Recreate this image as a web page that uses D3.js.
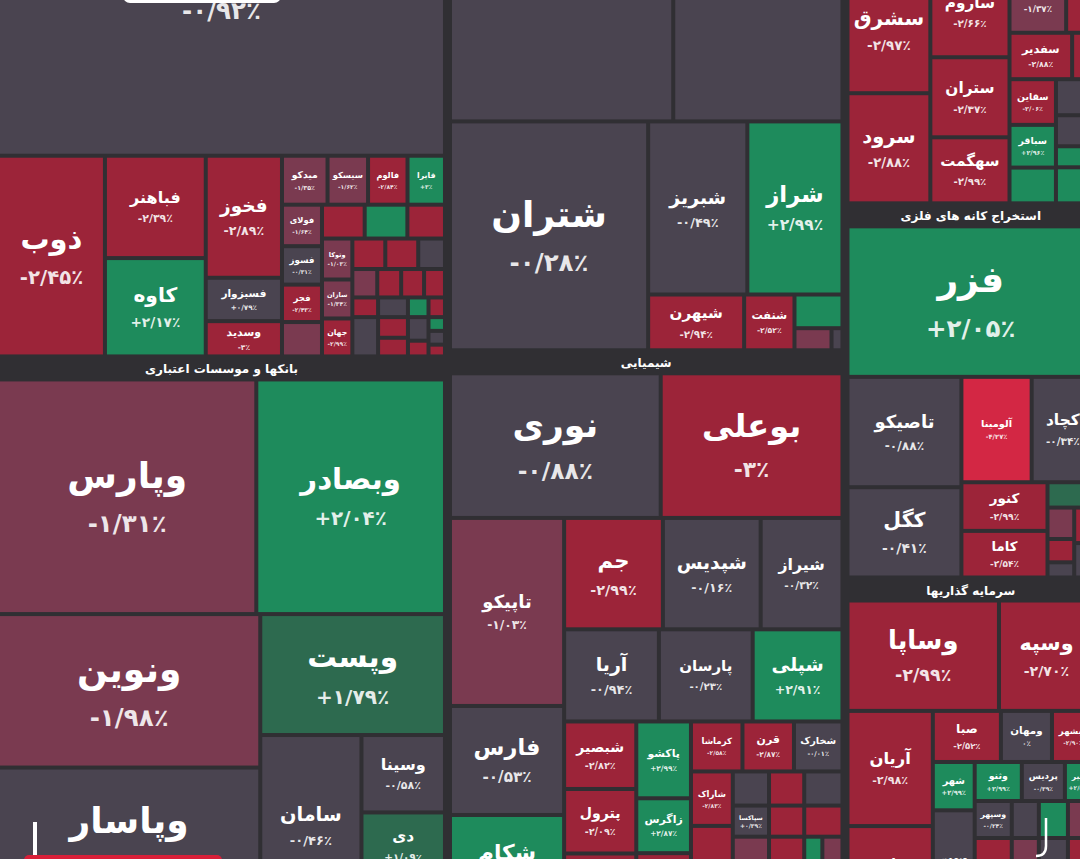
<!DOCTYPE html>
<html><head><meta charset="utf-8">
<script src="https://cdn.jsdelivr.net/npm/d3@7"></script>
<style>html,body{margin:0;padding:0;background:#302f33;overflow:hidden}svg{display:block}</style>
</head><body><svg id="c" width="1080" height="859"></svg>
<script>
// ---------------- DATA ----------------
const sectorNames = ['فلزات اساسی','بانکها و موسسات اعتباری','فرآورده های نفتی','شیمیایی','خودرو و ساخت قطعات','سیمان، آهک و گچ','استخراج کانه های فلزی','سرمایه گذاریها'];

const metalsTickers = ["فملی","ذوب","فباهنر","کاوه","فخوز","فسبزوار","وسدید","میدکو","سیسکو","فالوم","فایرا","فولای","فسوز","فجر","#m1","#m2","#m3","#m4","وتوکا","سازان","جهان","#m5","#m6","#m7","#m8","#m9","#m10","#m11","#m12","#m13","#m14","#m15","#m16","#m17","#m18","#m19","#m20","#m21","#m22","#m23"];
const metalsChanges = [-0.92,-2.45,-2.39,2.17,-2.89,0.79,-3,-1.35,-1.62,-2.84,3,-1.64,-0.31,-2.43,-1.5,-2.6,2.4,-2.7,-1.03,-1.34,-2.99,-2.5,-2.8,-0.4,-1.6,-2.7,-2.9,-2.2,-2.4,0.2,2.6,-2.9,-0.5,-2.6,-2.3,-0.6,-2.8,2.2,-0.3,-2.5];
const metalsCaps = [152292,21216,10200,9800,9196,3268,2660,2205,1960,1911,1813,1640,1520,1480,1360,1428,1428,1258,1230,1170,1140,992,992,806,700,672,644,588,500,580,400,320,1000,609,551,480,320,224,224,192];
const metalsLayout = ['v','فملی',['h','ذوب',['v','فباهنر','کاوه'],['v','فخوز','فسبزوار','وسدید'],['v',['h','میدکو','سیسکو','فالوم','فایرا'],['h',['v','فولای','فسوز','فجر','#m1'],['v',['h','#m2','#m3','#m4'],['h',['v','وتوکا','سازان','جهان'],['v',['h','#m5','#m6','#m7'],['h','#m8','#m9','#m10','#m11'],['h','#m12','#m13','#m14','#m15'],['h','#m16',['v','#m17','#m18'],['v','#m19','#m20'],['v','#m21','#m22','#m23']]]]]]]]];

const banksTickers = ["وپارس","وبصادر","ونوین","وپاسار","وپست","سامان","وسینا","دی","#b1"];
const banksChanges = [-1.31,2.04,-1.98,0.16,1.79,-0.46,-0.58,1.09,-0.2];
const banksCaps = [59904,43758,39780,38740,22080,18200,6391,5395,3237];
const banksLayout = ['v',['h','وپارس','وبصادر'],['h',['v','ونوین','وپاسار'],['v','وپست',['h','سامان',['v','وسینا','دی','#b1']]]]];

const petroTickers = ["شپنا","شبندر","شتران","شبریز","شراز","شیهرن","شنفت","#p1","#p2","#p3"];
const petroChanges = [-0.5,-0.6,-0.28,-0.49,2.99,-2.94,-2.52,2.5,-1.5,-0.3];
const petroCaps = [68600,52000,44900,17000,16300,5300,2780,1600,810,240];
const petroLayout = ['v',['h','شپنا','شبندر'],['h','شتران',['v',['h','شبریز','شراز'],['h','شیهرن','شنفت',['v','#p1',['h','#p2','#p3']]]]]];

const chemTickers = ["نوری","بوعلی","تاپیکو","فارس","شکام","جم","شپدیس","شیراز","آریا","پارسان","شپلی","شبصیر","پترول","#c1","پاکشو","زاگرس","#c2","کرماشا","قرن","شخارک","شاراک","شفام","#c3","#c4","#c5","سپاکسا","#c6","#c7","#c8","#c9","#c10","#c11"];
const chemChanges = [-0.88,-3,-1.03,-0.53,2.5,-2.99,-0.16,-0.32,-0.94,-0.23,2.91,-2.82,-2.09,-2.6,2.99,2.87,-2.4,-2.58,-2.87,-0.01,-2.83,-2.72,-0.4,-2.5,-0.2,0.39,-2.6,-2.3,-1.4,-2.7,2.4,-1.6];
const chemCaps = [30173,26026,21244,12317,11526,10890,10780,9020,8645,8554,8190,4824,4608,4536,4158,2970,3456,2548,2548,2401,2255,3772,1224,1190,1292,1116,1085,1178,2880,2800,1440,1600];
const chemLayout = ['v',['h','نوری','بوعلی'],['h',['v','تاپیکو','فارس','شکام'],['v',['h','جم','شپدیس','شیراز'],['h','آریا','پارسان','شپلی'],['h',['v','شبصیر','پترول','#c1'],['v','پاکشو','زاگرس','#c2'],['v',['h','کرماشا','قرن','شخارک'],['h',['v','شاراک','شفام'],['v',['h','#c3','#c4','#c5'],['h','سپاکسا','#c6','#c7'],['h','#c8','#c9','#c10','#c11']]]]]]]];

const autoTickers = ["خساپا"];
const autoChanges = [-0.6];
const autoCaps = [32500];
const autoLayout = ['v','خساپا'];

const cementTickers = ["سشرق","سرود","ساروم","ستران","سهگمت","ساوه","#s1","سفدیر","#s2","سقاین","سباقر","#s3","#s4","#s5","#s6","#s7"];
const cementChanges = [-2.97,-2.88,-2.66,-2.37,-2.99,-1.37,-2.5,-2.88,-2.6,-2.06,2.96,2.3,-0.4,-0.2,2.2,2.5];
const cementCaps = [10496,9102,7189,6320,5214,3762,1848,2898,1012,2116,1978,1656,1368,1178,798,1368];
const cementLayout = ['h',['v','سشرق','سرود'],['v','ساروم','ستران','سهگمت'],['v',['h','ساوه','#s1'],['h','سفدیر','#s2'],['h',['v','سقاین','سباقر','#s3'],['v','#s4','#s5','#s6','#s7']]]];

const extractTickers = ["فزر","تاصیکو","کگل","آلومینا","کچاد","کنور","کاما","#e1","#e2","#e3","#e4","#e5","#e6"];
const extractChanges = [2.05,-0.88,-0.41,-4.27,-0.34,-2.99,-2.54,1.6,-1.5,-2.5,-0.3,-2.4,-0.5];
const extractCaps = [37000,12540,10260,7384,6552,4176,4002,1175,837,621,405,700,680];
const extractLayout = ['v','فزر',['h',['v','تاصیکو','کگل'],['v',['h','آلومینا','کچاد'],['h',['v','کنور','کاما'],['v','#e1',['h',['v','#e2','#e3','#e4'],['v','#e5','#e6']]]]]]];

const investTickers = ["وساپا","وسپه","آریان","وخارزم","صبا","ومهان","وبشهر","شهر","وبهمن","وثنو","پردیس","ونیر","وسپهر","#i1","#i2","#i3","#i4","#i5","#i6","#i7"];
const investChanges = [-2.99,-2.7,-2.98,-2.5,-2.52,0,-2.9,2.99,0.16,2.99,-0.39,2.5,-0.24,-0.5,2.4,-1.5,-2.6,-1.4,-0.3,-2.5];
const investCaps = [16677,10464,9804,7740,3468,2601,2142,2016,4452,1833,1677,1131,1369,999,1073,962,2923,2133,2291,2054];
const investLayout = ['v',['h','وساپا','وسپه'],['h',['v','آریان','وخارزم'],['v',['h','صبا','ومهان','وبشهر'],['h',['v','شهر','وبهمن'],['v',['h','وثنو','پردیس','ونیر'],['h','وسپهر','#i1','#i2','#i3'],['h','#i4','#i5','#i6','#i7']]]]]];

const sectorSets = [
  [metalsTickers, metalsChanges, metalsCaps, metalsLayout],
  [banksTickers, banksChanges, banksCaps, banksLayout],
  [petroTickers, petroChanges, petroCaps, petroLayout],
  [chemTickers, chemChanges, chemCaps, chemLayout],
  [autoTickers, autoChanges, autoCaps, autoLayout],
  [cementTickers, cementChanges, cementCaps, cementLayout],
  [extractTickers, extractChanges, extractCaps, extractLayout],
  [investTickers, investChanges, investCaps, investLayout]
];
const columnSectors = [[0,1],[2,3],[4,5,6,7]];

// ---------------- BUILD ----------------
function build(spec, lut) {
  if (typeof spec === 'string') { const r = lut.get(spec); return {name: spec, pct: r.pct, cap: r.cap}; }
  return {dir: spec[0], children: spec.slice(1).map(s => build(s, lut))};
}
function sectorNode(i) {
  const [tk, ch, cp, lay] = sectorSets[i];
  const lut = new Map(tk.map((t, j) => [t, {pct: ch[j], cap: cp[j]}]));
  const n = build(lay, lut);
  n.header = sectorNames[i];
  return n;
}
const tree = {dir: 'h', children: columnSectors.map(col => ({dir: 'v', children: col.map(sectorNode)}))};

const X0 = 0, X1 = 1092, Y0 = -210, Y1 = 915, HDR = 23;

function tile(parent, x0, y0, x1, y1) {
  const kids = parent.children;
  const total = d3.sum(kids, c => c.value) || 1;
  if (parent.data.dir === 'h') {
    let x = x0; const k = (x1 - x0) / total;
    kids.forEach(c => { c.y0 = y0; c.y1 = y1; c.x0 = x; x += c.value * k; c.x1 = x; });
  } else {
    let y = y0; const k = (y1 - y0) / total;
    kids.forEach(c => { c.x0 = x0; c.x1 = x1; c.y0 = y; y += c.value * k; c.y1 = y; });
  }
}

const treemap = d3.treemap()
  .size([X1 - X0, Y1 - Y0])
  .tile(tile)
  .paddingInner(n => n.depth === 0 ? 9 : 4)
  .paddingTop(n => n.data.header ? HDR : 0)
  .round(false);

const root = d3.hierarchy(tree).sum(d => d.cap || 0);
treemap(root);
// compensate header band area so the tiles keep their proportions
for (let it = 0; it < 8; it++) {
  root.eachAfter(n => {
    if (!n.children) return;
    let v = d3.sum(n.children, c => c.value);
    if (n.data.header) {
      const tilesH = Math.max(1, (n.y1 - n.y0 + 4) - HDR);
      v += v * HDR / tilesH;
    }
    n.value = v;
  });
  treemap(root);
}

// ---------------- DRAW ----------------
const color = d3.scaleThreshold()
  .domain([-4, -2, -1, 1, 2])
  .range(['#d32744', '#9c2439', '#7a3a50', '#4a4450', '#2d6a4f', '#1e8b5c']);

const fa = s => s.replace(/[0-9]/g, d => '۰۱۲۳۴۵۶۷۸۹'[+d]).replace('.', '/');
const fmt = p => { const a = Math.abs(p); const s = Number.isInteger(a) ? String(a) : a.toFixed(2); return (p > 0 ? '+' : p < 0 ? '-' : '') + fa(s) + '٪'; };

const svg = d3.select('#c');
svg.append('rect').attr('width', 1080).attr('height', 859).attr('fill', '#302f33');
const g = svg.append('g').attr('transform', `translate(${X0},${Y0})`);

const leaves = root.leaves();
g.selectAll('rect.t').data(leaves).join('rect').attr('class', 't')
  .attr('x', d => d.x0).attr('y', d => d.y0)
  .attr('width', d => Math.max(0, d.x1 - d.x0)).attr('height', d => Math.max(0, d.y1 - d.y0))
  .attr('fill', d => color(d.data.pct));

const font = "'DejaVu Sans', 'Noto Sans', sans-serif";
function label(x, y, size, fill, txt) {
  if (y + Y0 < 0) return; // label lies above the visible frame
  g.append('text').attr('x', x).attr('y', y)
    .attr('text-anchor', 'middle').attr('dominant-baseline', 'central')
    .attr('font-family', font).attr('font-weight', 'bold').attr('font-size', size.toFixed(1))
    .attr('fill', fill).text(txt);
}
leaves.forEach(d => {
  if (d.data.name.startsWith('#')) return;
  const w = d.x1 - d.x0, h = d.y1 - d.y0;
  const len = [...d.data.name].length;
  const f = Math.min(36, 0.19 * Math.sqrt(w * h) + 2, (w + 10) * 0.9 / len, h / 2.4);
  if (f < 6) return;
  const cx = (d.x0 + d.x1) / 2, cy = (d.y0 + d.y1) / 2;
  label(cx, cy - 0.6 * f, f, '#ffffff', d.data.name);
  label(cx, cy + 0.75 * f, Math.max(6, 0.68 * f), 'rgba(255,255,255,0.88)', fmt(d.data.pct));
});

// sector header bands
root.descendants().filter(n => n.data.header).forEach(n => {
  label((n.x0 + n.x1) / 2, n.y0 + 11, 12, '#ffffff', n.data.header);
});

// screenshot overlays (player UI)
svg.append('rect').attr('x', 123).attr('y', -12).attr('width', 158).attr('height', 15).attr('rx', 7).attr('fill', '#ffffff');
svg.append('rect').attr('x', 33).attr('y', 822).attr('width', 4).attr('height', 36).attr('fill', '#ffffff');
svg.append('rect').attr('x', 24).attr('y', 855).attr('width', 198).attr('height', 10).attr('rx', 5).attr('fill', '#d81f38');
svg.append('path').attr('d', 'M1046,818 L1046,846 Q1046,856 1036,856').attr('fill', 'none').attr('stroke', '#ffffff').attr('stroke-width', 2.5);
</script></body></html>
